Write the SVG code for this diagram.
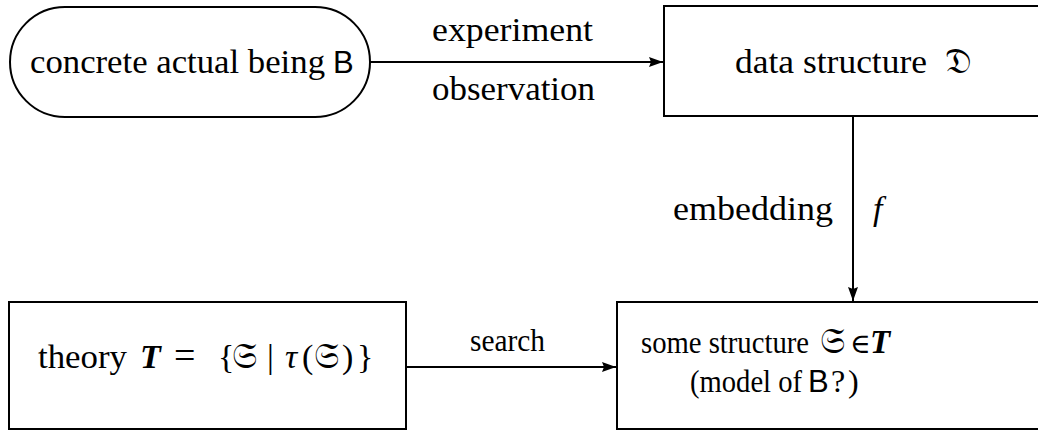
<svg xmlns="http://www.w3.org/2000/svg" width="1038" height="430" viewBox="0 0 1038 430">
<style>
.box{fill:#fff;stroke:#000;stroke-width:2}
.t{font-family:"Liberation Serif","DejaVu Serif",serif;font-size:34px;fill:#000}
.m{font-size:32px}
.s{font-family:"Liberation Sans","DejaVu Sans",sans-serif;font-size:31px}
.fr{font-family:"DejaVu Sans","Noto Sans",serif;font-size:36px}
.bi{font-weight:bold;font-style:italic}
.edge{stroke:#000;stroke-width:2;fill:none}
</style>
<defs>
<marker id="ah" viewBox="0 0 14 10" refX="14" refY="5" markerWidth="14" markerHeight="10" markerUnits="userSpaceOnUse" orient="auto">
<path d="M0,0 L14,5 L0,10 L2,5 Z" fill="#000"/>
</marker>
</defs>
<g id="connectors">
<line class="edge" x1="370" y1="62" x2="663" y2="62" marker-end="url(#ah)"/>
<line class="edge" x1="853" y1="117" x2="853" y2="301" marker-end="url(#ah)"/>
<line class="edge" x1="406" y1="367" x2="616" y2="367" marker-end="url(#ah)"/>
<text class="t" x="432" y="41" textLength="161" lengthAdjust="spacingAndGlyphs">experiment</text>
<text class="t" x="432" y="100" textLength="163" lengthAdjust="spacingAndGlyphs">observation</text>
<text class="t" x="673" y="220" textLength="160" lengthAdjust="spacingAndGlyphs">embedding</text>
<text class="t" x="873" y="220" font-style="italic">f</text>
<text class="t m" x="470" y="351" textLength="75" lengthAdjust="spacingAndGlyphs">search</text>
</g>
<g id="node-being">
<rect class="box" x="10" y="7" width="360" height="110" rx="55" ry="55"/>
<text class="t" x="30" y="73"><tspan textLength="295" lengthAdjust="spacingAndGlyphs">concrete actual being</tspan><tspan class="s" x="333">B</tspan></text>
</g>
<g id="node-data">
<rect class="box" x="664" y="6" width="380" height="110"/>
<text class="t" x="735" y="73"><tspan textLength="192" lengthAdjust="spacingAndGlyphs">data structure</tspan><tspan class="fr" x="945">𝔇</tspan></text>
</g>
<g id="node-theory">
<rect class="box" x="9" y="302" width="397" height="127"/>
<text class="t" x="38" y="368"><tspan textLength="89" lengthAdjust="spacingAndGlyphs">theory</tspan><tspan class="bi" x="140">T</tspan><tspan x="174" font-size="38">=</tspan><tspan x="218">{</tspan><tspan class="fr" x="232">𝔖</tspan><tspan x="267">|</tspan><tspan font-style="italic" x="285">τ</tspan><tspan x="302">(</tspan><tspan class="fr" x="314">𝔖</tspan><tspan x="342">)</tspan><tspan x="357">}</tspan></text>
</g>
<g id="node-structure">
<rect class="box" x="617" y="302" width="427" height="127"/>
<text class="t m" x="641" y="353"><tspan textLength="168" lengthAdjust="spacingAndGlyphs">some structure</tspan><tspan class="fr" x="820" font-size="34">𝔖</tspan><tspan x="850" font-size="28">∈</tspan><tspan class="bi" x="870" font-size="33">T</tspan></text>
<text class="t m" x="690" y="392"><tspan textLength="112" lengthAdjust="spacingAndGlyphs">(model of</tspan><tspan class="s" x="808" font-size="28">B</tspan><tspan x="831">?</tspan><tspan x="848">)</tspan></text>
</g>
</svg>
